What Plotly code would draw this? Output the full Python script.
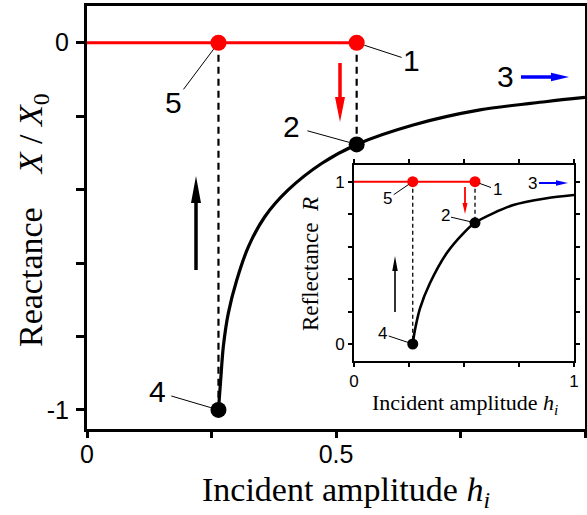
import math
import plotly.graph_objects as go

# ---------------- data ----------------
# main panel: reactance X/X0 vs incident amplitude h_i
h_upper = [0.0, 0.264, 0.5415]
X_upper = [0.0, 0.0, 0.0]

h_lower = [0.264, 0.2684, 0.2737, 0.2837, 0.3006, 0.324, 0.357, 0.404, 0.471,
           0.5415, 0.655, 0.789, 0.924, 1.0]
X_lower = [-1.0, -0.919, -0.828, -0.737, -0.647, -0.556, -0.474, -0.401, -0.329,
           -0.277, -0.224, -0.183, -0.160, -0.149]

h_up_jump = 0.264      # points 5 -> 4
h_down_jump = 0.5415   # points 1 -> 2
X_point2 = -0.277
X_point4 = -1.0

# inset: reflectance R vs incident amplitude h_i
h_in_upper = [0.0, 0.267, 0.55]
R_in_upper = [1.0, 1.0, 1.0]
h_in_lower = [0.267, 0.277, 0.3, 0.345, 0.421, 0.497, 0.55, 0.724, 0.876, 1.0]
R_in_lower = [0.0, 0.086, 0.22, 0.374, 0.559, 0.682, 0.747, 0.856, 0.898, 0.918]
h_in_up_jump = 0.267
h_in_down_jump = 0.55
R_in_point2 = 0.747
R_in_point4 = 0.0

main_xticks = [0, 0.5, 1]
main_xticktext = ['0', '0.5', '1']
main_xminor = [0.25, 0.75]
main_yticks = [-1, 0]
main_yticktext = ['-1', '0']
main_yminor = [-0.8, -0.6, -0.4, -0.2]
in_xticks = [0, 1]
in_xticktext = ['0', '1']
in_xminor = [0.25, 0.5, 0.75]
in_yticks = [0, 1]
in_yticktext = ['0', '1']
in_yminor = [0.2, 0.4, 0.6, 0.8]

# ---------------- layout geometry ----------------
W, H = 587, 515
L, R_, T, B = 87, 2, 6, 86
PW, PH = W - L - R_, H - T - B

def pxx(px):
    return (px - L) / PW

def pxy(py):
    return (T + PH - py) / PH

SERIF = "Liberation Serif, Times New Roman, serif"
SANS = "Liberation Sans, Arial, sans-serif"
RED = "#ff0000"
BLUE = "#0000ff"

fig = go.Figure()

# ---- main panel traces ----
fig.add_trace(go.Scatter(x=[h_down_jump, h_down_jump], y=[X_upper[-1], X_point2],
                         mode="lines", line=dict(color="black", width=2.2, dash="7px,5px"),
                         showlegend=False, hoverinfo="skip"))
fig.add_trace(go.Scatter(x=[h_up_jump, h_up_jump], y=[X_upper[1], X_point4],
                         mode="lines", line=dict(color="black", width=2.2, dash="7px,5px"),
                         showlegend=False, hoverinfo="skip"))
fig.add_trace(go.Scatter(x=h_upper, y=X_upper, mode="lines",
                         line=dict(color=RED, width=3), showlegend=False))
fig.add_trace(go.Scatter(x=h_lower, y=X_lower, mode="lines",
                         line=dict(color="black", width=3.2, shape="spline", smoothing=0.8),
                         showlegend=False))
fig.add_trace(go.Scatter(x=[h_up_jump, h_down_jump], y=[X_upper[1], X_upper[2]], mode="markers",
                         marker=dict(color=RED, size=16), showlegend=False))
fig.add_trace(go.Scatter(x=[h_down_jump, h_up_jump], y=[X_point2, X_point4], mode="markers",
                         marker=dict(color="black", size=16), showlegend=False))

# ---- inset traces ----
fig.add_trace(go.Scatter(x=[h_in_down_jump, h_in_down_jump], y=[R_in_upper[-1], R_in_point2],
                         xaxis="x2", yaxis="y2", mode="lines",
                         line=dict(color="black", width=1.3, dash="4px,3px"),
                         showlegend=False, hoverinfo="skip"))
fig.add_trace(go.Scatter(x=[h_in_up_jump, h_in_up_jump], y=[R_in_upper[1], R_in_point4],
                         xaxis="x2", yaxis="y2", mode="lines",
                         line=dict(color="black", width=1.3, dash="4px,3px"),
                         showlegend=False, hoverinfo="skip"))
fig.add_trace(go.Scatter(x=h_in_upper, y=R_in_upper, xaxis="x2", yaxis="y2", mode="lines",
                         line=dict(color=RED, width=2), showlegend=False))
fig.add_trace(go.Scatter(x=h_in_lower, y=R_in_lower, xaxis="x2", yaxis="y2", mode="lines",
                         line=dict(color="black", width=2.6, shape="spline", smoothing=0.8),
                         showlegend=False))
fig.add_trace(go.Scatter(x=[h_in_up_jump, h_in_down_jump], y=[R_in_upper[1], R_in_upper[2]],
                         xaxis="x2", yaxis="y2", mode="markers",
                         marker=dict(color=RED, size=11), showlegend=False))
fig.add_trace(go.Scatter(x=[h_in_down_jump, h_in_up_jump], y=[R_in_point2, R_in_point4],
                         xaxis="x2", yaxis="y2", mode="markers",
                         marker=dict(color="black", size=11), showlegend=False))

# ---------------- arrows (decorations) ----------------
def arrow(px0, py0, px1, py1, shaft, head_len, head_w, color):
    dx, dy = px1 - px0, py1 - py0
    Ln = math.hypot(dx, dy)
    ux, uy = dx / Ln, dy / Ln
    nx, ny = -uy, ux
    s, hw, hl = shaft / 2, head_w / 2, head_len
    local = [(0, -s), (Ln - hl, -s), (Ln - hl, -hw), (Ln, 0),
             (Ln - hl, hw), (Ln - hl, s), (0, s)]
    pts = []
    for u, v in local:
        ox = u * ux + v * nx
        oy = u * uy + v * ny
        pts.append((ox, -oy))
    path = "M" + " L".join(f"{a:.2f},{b:.2f}" for a, b in pts) + " Z"
    return dict(type="path", xref="paper", yref="paper",
                xsizemode="pixel", ysizemode="pixel",
                xanchor=pxx(px0), yanchor=pxy(py0), path=path,
                fillcolor=color, line=dict(width=0), layer="above")

shapes = [
    arrow(521, 77, 569, 77, 3.5, 18, 8.5, BLUE),
    arrow(340, 63, 340, 122, 3.5, 25, 10, RED),
    arrow(196, 270, 196, 176, 3.5, 27, 10, "black"),
    arrow(539, 183, 568, 183, 2, 12, 5.5, BLUE),
    arrow(465, 187, 465, 214, 1.8, 11, 5, RED),
    arrow(395, 312, 395, 256, 1.6, 15, 5.5, "black"),
]

# ---------------- annotations ----------------
def label(text, x, y, ax, ay, size, xref="x", yref="y", standoff=8, startstandoff=0):
    return dict(text=text, x=x, y=y, xref=xref, yref=yref, ax=ax, ay=ay,
                showarrow=True, arrowhead=0, arrowwidth=1, arrowcolor="black",
                standoff=standoff, startstandoff=startstandoff,
                font=dict(family=SANS, size=size, color="black"))

annotations = [
    label("1", h_down_jump, X_upper[2], 55, 18, 30),
    label("5", h_up_jump, X_upper[1], -45, 60, 30),
    label("2", h_down_jump, X_point2, -65, -18, 30, startstandoff=6),
    label("4", h_up_jump, X_point4, -61, -18, 30, startstandoff=4),
    dict(text="3", x=pxx(505), y=pxy(76), xref="paper", yref="paper", showarrow=False,
         xanchor="center", yanchor="middle", font=dict(family=SANS, size=30, color="black")),
    label("1", h_in_down_jump, R_in_upper[2], 22, 8, 17, xref="x2", yref="y2", standoff=5),
    label("5", h_in_up_jump, R_in_upper[1], -25, 17, 17, xref="x2", yref="y2", standoff=5),
    label("2", h_in_down_jump, R_in_point2, -30, -7, 17, xref="x2", yref="y2", standoff=5),
    label("4", h_in_up_jump, R_in_point4, -30, -10, 17, xref="x2", yref="y2", standoff=5),
    dict(text="3", x=pxx(532), y=pxy(183), xref="paper", yref="paper", showarrow=False,
         xanchor="center", yanchor="middle", font=dict(family=SANS, size=17, color="black")),
    # axis titles
    dict(text="Incident amplitude <i>h</i><sub><i>i</i></sub>", x=pxx(346), y=pxy(492),
         xref="paper", yref="paper", showarrow=False, xanchor="center", yanchor="middle",
         font=dict(family=SERIF, size=34, color="black")),
    dict(text="Reactance\u00a0\u00a0\u00a0\u00a0<i>X</i>\u00a0/\u00a0<i>X</i><sub>0</sub>",
         x=pxx(33), y=pxy(220), xref="paper", yref="paper", showarrow=False, textangle=-90,
         xanchor="center", yanchor="middle", font=dict(family=SERIF, size=34, color="black")),
    dict(text="Incident amplitude <i>h</i><sub><i>i</i></sub>", x=pxx(465), y=pxy(404),
         xref="paper", yref="paper", showarrow=False, xanchor="center", yanchor="middle",
         font=dict(family=SERIF, size=22, color="black")),
    dict(text="Reflectance\u00a0\u00a0<i>R</i>", x=pxx(310), y=pxy(264),
         xref="paper", yref="paper", showarrow=False, textangle=-90,
         xanchor="center", yanchor="middle", font=dict(family=SERIF, size=23, color="black")),
]

axis_common = dict(showgrid=False, zeroline=False, showline=True, linecolor="black",
                   ticks="outside", tickcolor="black", automargin=False)

def minor(vals, ln, wd):
    return dict(tickvals=vals, ticks="outside", ticklen=ln, tickwidth=wd,
                tickcolor="black", showgrid=False)

fig.update_layout(
    width=W, height=H,
    margin=dict(l=L, r=R_, t=T, b=B, pad=0),
    paper_bgcolor="white", plot_bgcolor="white",
    showlegend=False,
    xaxis=dict(**axis_common, domain=[0, 1], range=[0, 1], mirror=True, linewidth=3,
               tickvals=main_xticks, ticktext=main_xticktext, ticklen=6, tickwidth=2.5,
               minor=minor(main_xminor, 6, 2.5), ticklabelstandoff=-5,
               tickfont=dict(family=SANS, size=25, color="black")),
    yaxis=dict(**axis_common, domain=[0, 1], range=[-1.052, 0.1], mirror=True, linewidth=3,
               tickvals=main_yticks, ticktext=main_yticktext, ticklen=8, tickwidth=2.5,
               minor=minor(main_yminor, 8, 2.5), ticklabelstandoff=2,
               tickfont=dict(family=SANS, size=25, color="black")),
    xaxis2=dict(**axis_common, domain=[pxx(354), pxx(574)], range=[0, 1], anchor="y2",
                mirror="ticks", linewidth=2, tickvals=in_xticks, ticktext=in_xticktext,
                ticklen=4, tickwidth=1.5, minor=minor(in_xminor, 4, 1.5),
                tickfont=dict(family=SANS, size=17, color="black")),
    yaxis2=dict(**axis_common, domain=[pxy(360.7), pxy(165)], range=[-0.103, 1.103], anchor="x2",
                mirror="ticks", linewidth=2, tickvals=in_yticks, ticktext=in_yticktext,
                ticklen=4, tickwidth=1.5, minor=minor(in_yminor, 4, 1.5),
                tickfont=dict(family=SANS, size=17, color="black")),
    shapes=[dict(type="rect", xref="paper", yref="paper", x0=pxx(354), x1=pxx(574),
                 y0=pxy(360.7), y1=pxy(165), fillcolor="white", line=dict(width=0),
                 layer="below")] + shapes,
    annotations=annotations,
)

fig.write_html("out.html", config={"displayModeBar": False},
               post_script="document.body.style.margin='0';document.body.style.overflow='hidden';")
